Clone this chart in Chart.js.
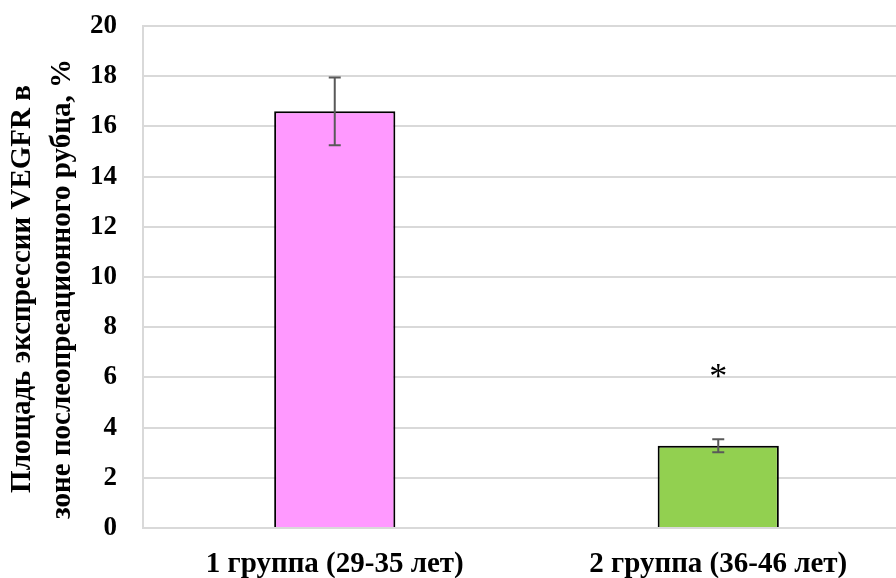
<!DOCTYPE html>
<html>
<head>
<meta charset="utf-8">
<script src="https://cdn.jsdelivr.net/npm/chart.js@4"></script>
<style>
  html, body { margin: 0; padding: 0; background: #fff; overflow: hidden; }
  #wrap { width: 896px; height: 578px; overflow: hidden; }
  #box { width: 910px; height: 578px; }
</style>
</head>
<body>
<div id="wrap"><div id="box"><canvas id="chart"></canvas></div></div>
<script>
const categories = ['1 группа (29-35 лет)', '2 группа (36-46 лет)'];
const means = [16.6, 3.28];
const errors = [1.35, 0.26];
const barColors = ['#FF99FF', '#92D050'];
const marks = ['', '*'];
const markValues = [null, 6.2];
const yTitle = ['Площадь экспрессии VEGFR в', 'зоне послеопреационного рубца, %'];

const errorBars = {
  id: 'errorBars',
  afterDatasetsDraw(chart) {
    const ctx = chart.ctx;
    const y = chart.scales.y;
    const meta = chart.getDatasetMeta(0);
    ctx.save();
    ctx.strokeStyle = '#595959';
    ctx.lineWidth = 2;
    meta.data.forEach((bar, i) => {
      const top = y.getPixelForValue(means[i] + errors[i]);
      const bot = y.getPixelForValue(means[i] - errors[i]);
      ctx.beginPath();
      ctx.moveTo(bar.x, top); ctx.lineTo(bar.x, bot);
      ctx.moveTo(bar.x - 6, top); ctx.lineTo(bar.x + 6, top);
      ctx.moveTo(bar.x - 6, bot); ctx.lineTo(bar.x + 6, bot);
      ctx.stroke();
      if (marks[i]) {
        ctx.fillStyle = '#000';
        ctx.font = '36px "Liberation Serif"';
        ctx.textAlign = 'center';
        ctx.textBaseline = 'middle';
        ctx.fillText(marks[i], bar.x, y.getPixelForValue(markValues[i]) + 6);
      }
    });
    ctx.restore();
  }
};

// axis title drawn by hand so it can sit a bit below the plot's middle, as in the source
const sideTitle = {
  id: 'sideTitle',
  afterDraw(chart) {
    const ctx = chart.ctx;
    const area = chart.chartArea;
    const cy = (area.top + area.bottom) / 2 + 12;
    ctx.save();
    ctx.fillStyle = '#000';
    ctx.font = 'bold 29px "Liberation Serif"';
    ctx.textAlign = 'center';
    ctx.textBaseline = 'middle';
    [23, 63].forEach((x, i) => {
      ctx.save();
      ctx.translate(x, cy);
      ctx.rotate(-Math.PI / 2);
      ctx.fillText(yTitle[i], 0, 0);
      ctx.restore();
    });
    ctx.restore();
  }
};

new Chart(document.getElementById('chart'), {
  type: 'bar',
  data: {
    labels: categories,
    datasets: [{
      data: means,
      backgroundColor: barColors,
      borderColor: '#000',
      borderWidth: 2,
      categoryPercentage: 0.316,
      barPercentage: 1
    }]
  },
  options: {
    responsive: true,
    maintainAspectRatio: false,
    animation: false,
    layout: { padding: { top: 26, left: 6, right: 0, bottom: 0 } },
    plugins: { legend: { display: false }, tooltip: { enabled: false } },
    scales: {
      x: {
        grid: { display: false },
        border: { color: '#d9d9d9', width: 2 },
        ticks: {
          color: '#000',
          padding: 11,
          font: { family: 'Liberation Serif', size: 29, weight: 'bold' }
        },
        afterFit(scale) { scale.height = 50; }
      },
      y: {
        min: 0,
        max: 20,
        ticks: {
          stepSize: 2,
          color: '#000',
          padding: 26,
          font: { family: 'Liberation Serif', size: 27, weight: 'bold' }
        },
        grid: { color: '#d9d9d9', lineWidth: 2, drawTicks: false },
        border: { color: '#d9d9d9', width: 2 },
        afterFit(scale) {
          scale.width = 137;
          scale.paddingTop = 0;
          scale.paddingBottom = 0;
        }
      }
    }
  },
  plugins: [errorBars, sideTitle]
});
</script>
</body>
</html>
